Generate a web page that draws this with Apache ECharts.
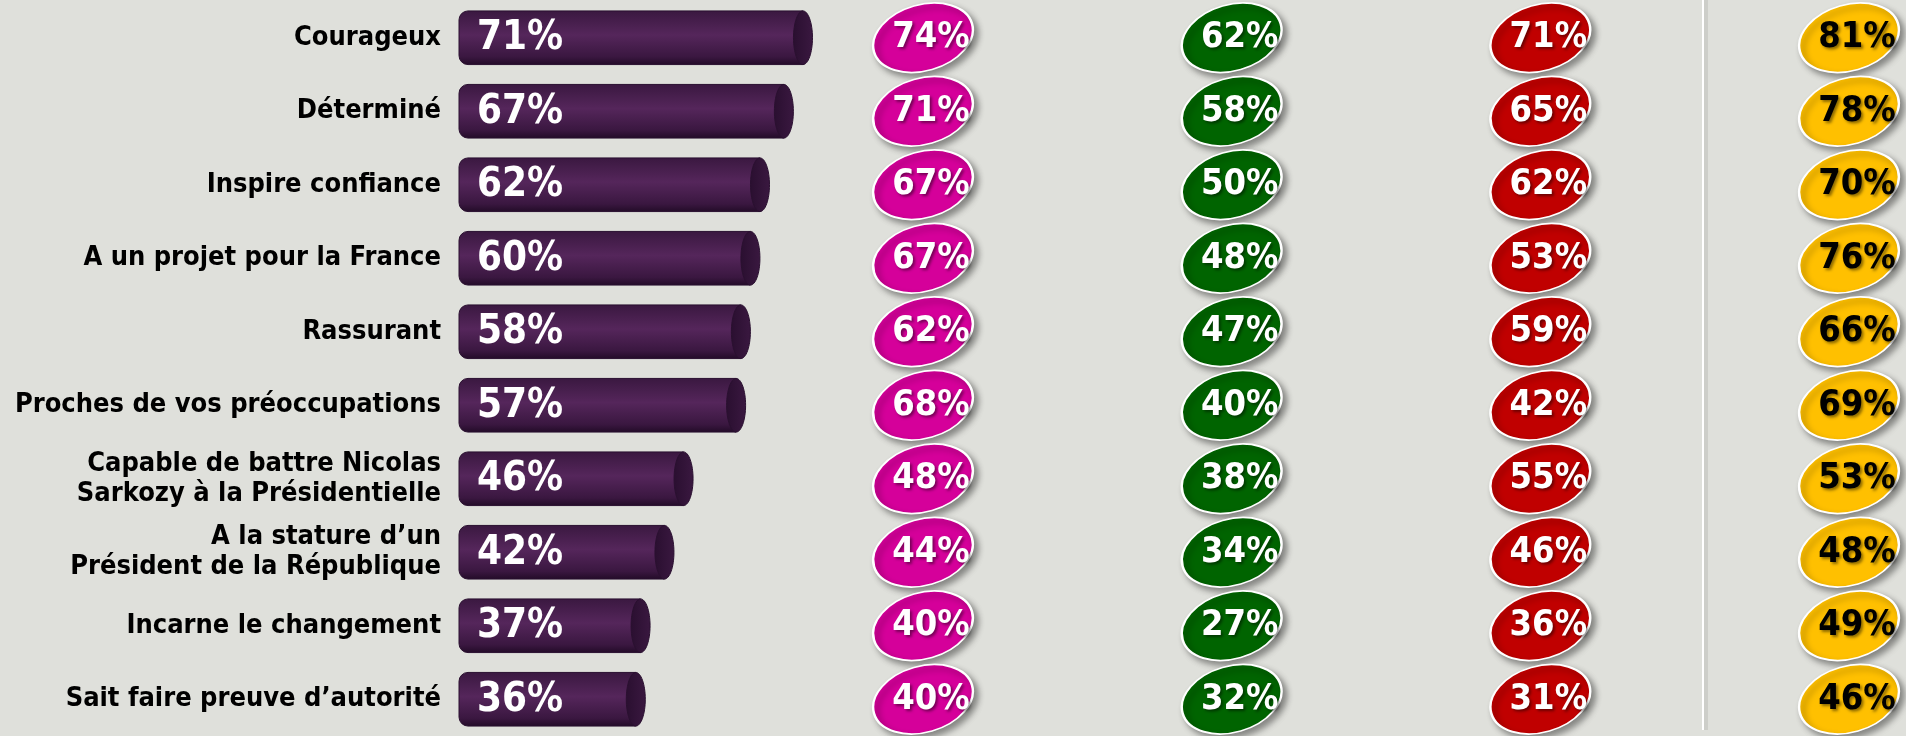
<!DOCTYPE html>
<html>
<head>
<meta charset="utf-8">
<script src="https://cdn.jsdelivr.net/npm/echarts@6/dist/echarts.min.js"></script>
<style>
  html, body { margin: 0; padding: 0; background: #dfe0db; }
  #chart { width: 1906px; height: 736px; }
</style>
</head>
<body>
<div id="chart"></div>
<script>
// libellés des items (lignes)
var categories = [
    'Courageux',
    'Déterminé',
    'Inspire confiance',
    'A un projet pour la France',
    'Rassurant',
    'Proches de vos préoccupations',
    'Capable de battre Nicolas\nSarkozy à la Présidentielle',
    'A la stature d’un\nPrésident de la République',
    'Incarne le changement',
    'Sait faire preuve d’autorité'
]
// barres (ensemble)
var ensemble = [71, 67, 62, 60, 58, 57, 46, 42, 37, 36]
// pastilles par colonne
var rose = [74, 71, 67, 67, 62, 68, 48, 44, 40, 40]
var vert = [62, 58, 50, 48, 47, 40, 38, 34, 27, 32]
var rouge = [71, 65, 62, 53, 59, 42, 55, 46, 36, 31]
var jaune = [81, 78, 70, 76, 66, 69, 53, 48, 49, 46]

var FONT = '"DejaVu Sans Condensed", "DejaVu Sans", sans-serif'

let myChart = echarts.init(document.getElementById('chart'))

function cylinder(params, api) {
    var idx = api.value(0)
    var v = api.value(1)
    var end = api.coord([v, idx])
    var x0 = params.coordSys.x
    var h = api.size([0, 1])[1] * 0.73
    var cy = end[1]
    var rx = 9.5
    var xe = end[0] - rx
    return {
        type: 'group',
        children: [
            {
                type: 'rect',
                shape: { x: x0, y: cy - h / 2, width: xe - x0, height: h, r: [9, 0, 0, 9] },
                style: {
                    fill: new echarts.graphic.LinearGradient(0, 0, 0, 1, [
                        { offset: 0, color: '#3a1840' },
                        { offset: 0.45, color: '#55265b' },
                        { offset: 0.85, color: '#3a1740' },
                        { offset: 1, color: '#220b27' }
                    ]),
                    stroke: '#2a1030',
                    lineWidth: 1
                }
            },
            {
                type: 'ellipse',
                shape: { cx: xe, cy: cy, rx: rx, ry: h / 2 },
                style: {
                    fill: new echarts.graphic.LinearGradient(0, 0, 1, 0, [
                        { offset: 0, color: '#2a0f30' },
                        { offset: 1, color: '#3a1840' }
                    ]),
                    stroke: '#2a1030',
                    lineWidth: 1
                }
            },
            {
                type: 'text',
                style: {
                    x: x0 + 18, y: cy + 1,
                    text: v + '%',
                    fill: '#fff',
                    font: 'bold 40px ' + FONT,
                    align: 'left',
                    verticalAlign: 'middle'
                }
            }
        ]
    }
}

function bulle(name, col, data, color, textColor) {
    return {
        name: name,
        type: 'scatter',
        xAxisIndex: 1,
        yAxisIndex: 1,
        symbol: 'circle',
        symbolSize: [102, 66],
        symbolRotate: 16,
        itemStyle: {
            color: color,
            borderColor: '#ffffff',
            borderWidth: 2,
            shadowBlur: 6,
            shadowColor: 'rgba(0,0,0,0.4)',
            shadowOffsetX: 4,
            shadowOffsetY: 4,
            opacity: 1
        },
        label: {
            show: true,
            position: 'inside',
            offset: [8, 0],
            formatter: function (arg) { return arg.value[2] + '%' },
            color: textColor,
            fontFamily: FONT,
            fontWeight: 'bold',
            fontSize: 36,
            textShadowColor: 'rgba(0,0,0,0.45)',
            textShadowBlur: 3,
            textShadowOffsetX: 2,
            textShadowOffsetY: 2
        },
        emphasis: { disabled: true },
        data: data.map(function (v, i) { return [col, i, v] })
    }
}

var option = {
    backgroundColor: '#dfe0db',
    animation: false,
    grid: [
        { left: 459, width: 492, top: 1, height: 737 },
        // centres des colonnes de pastilles : première à 923, dernière à 1849
        { left: 923, right: 57, top: 1, height: 737 }
    ],
    xAxis: [
        { type: 'value', gridIndex: 0, min: -3, max: 100, show: false },
        { type: 'value', gridIndex: 1, min: 0, max: 3, show: false }
    ],
    yAxis: [
        {
            type: 'category', gridIndex: 0, inverse: true, data: categories,
            axisLine: { show: false }, axisTick: { show: false }, splitLine: { show: false },
            axisLabel: {
                margin: 18,
                color: '#000',
                fontFamily: FONT,
                fontWeight: 'bold',
                fontSize: 27,
                lineHeight: 30,
                align: 'right'
            }
        },
        { type: 'category', gridIndex: 1, inverse: true, data: categories, show: false }
    ],
    graphic: [
        {
            type: 'rect', left: 1704, top: 0,
            shape: { width: 4, height: 730 },
            style: { fill: 'rgba(0,0,0,0.08)' }
        },
        {
            type: 'rect', left: 1702, top: 0,
            shape: { width: 2, height: 730 },
            style: { fill: '#ffffff' }
        }
    ],
    series: [
        {
            name: 'Ensemble',
            type: 'custom',
            xAxisIndex: 0,
            yAxisIndex: 0,
            renderItem: cylinder,
            encode: { x: 1, y: 0 },
            data: ensemble.map(function (v, i) { return [i, v] })
        },
        bulle('rose', 0, rose, '#d5009a', '#fff'),
        bulle('vert', 1, vert, '#006400', '#fff'),
        bulle('rouge', 2, rouge, '#c00000', '#fff'),
        bulle('jaune', 3, jaune, '#ffc000', '#000')
    ]
}
myChart.setOption(option)
</script>
</body>
</html>
